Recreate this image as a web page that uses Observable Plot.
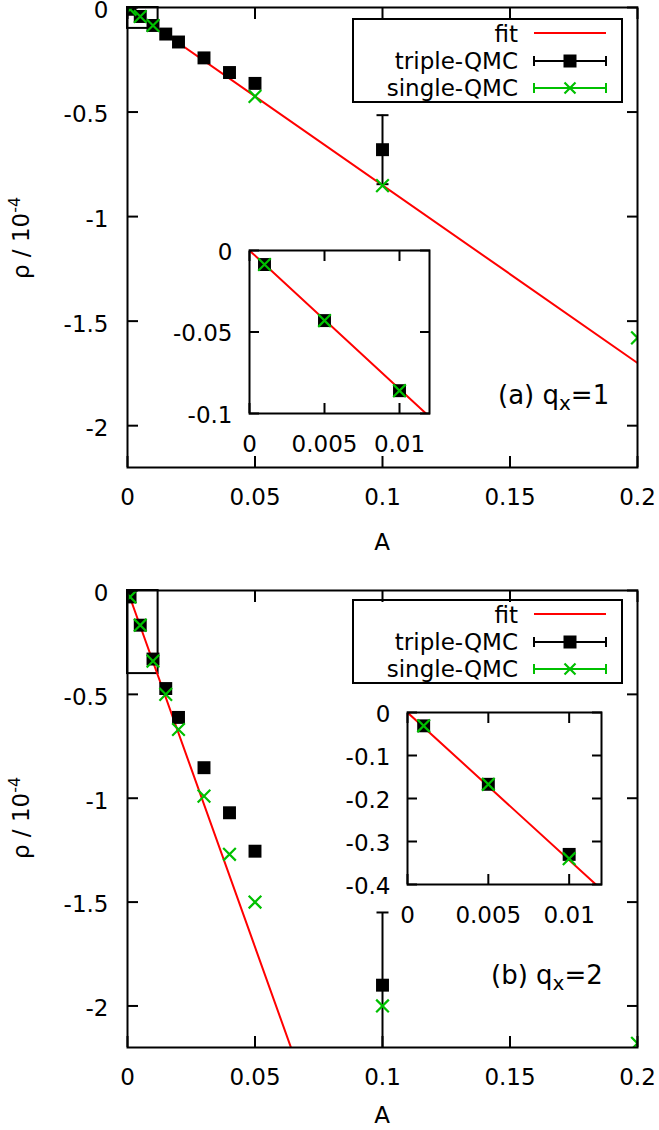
<!DOCTYPE html>
<html><head><meta charset="utf-8">
<script src="https://cdn.jsdelivr.net/npm/d3@7"></script>
<script src="https://cdn.jsdelivr.net/npm/@observablehq/plot@0.6"></script>
<style>
body{margin:0;background:#fff;font-family:"DejaVu Sans",sans-serif;}
#root{position:relative;width:659px;height:1130px;overflow:hidden;background:#fff;}
#root svg{position:absolute;}
</style></head><body><div id="root"></div>
<script>
// ---------- data: panel (a) q_x=1 ----------
const aTripleA   = [0.001, 0.005, 0.01, 0.015, 0.02, 0.03, 0.04, 0.05, 0.1];
const aTripleRho = [-0.0086, -0.043, -0.086, -0.127, -0.165, -0.241, -0.311, -0.363, -0.68];
const aTripleErr = [0, 0, 0, 0, 0, 0, 0, 0, 0.165];
const aSingleA   = [0.001, 0.005, 0.01, 0.05, 0.1, 0.2];
const aSingleRho = [-0.0086, -0.043, -0.086, -0.425, -0.852, -1.58];
const aFitA      = [0, 0.2];
const aFitRho    = [0, -1.7];
// ---------- data: panel (b) q_x=2 ----------
const bTripleA   = [0.001, 0.005, 0.01, 0.015, 0.02, 0.03, 0.04, 0.05, 0.1];
const bTripleRho = [-0.031, -0.167, -0.330, -0.472, -0.611, -0.853, -1.07, -1.255, -1.90];
const bTripleErr = [0, 0, 0, 0, 0, 0, 0, 0, 0.35];
const bSingleA   = [0.001, 0.005, 0.01, 0.015, 0.02, 0.03, 0.04, 0.05, 0.1, 0.2];
const bSingleRho = [-0.031, -0.167, -0.340, -0.50, -0.669, -0.99, -1.27, -1.50, -2.0, -2.18];
const bFitA      = [0, 0.0641];
const bFitRho    = [0, -2.2];
// ---------- ticks ----------
const mainXTicks = [0, 0.05, 0.1, 0.15, 0.2];
const mainXLabels = ["0", "0.05", "0.1", "0.15", "0.2"];
const mainYTicks = [0, -0.5, -1, -1.5, -2];
const mainYLabels = ["0", "-0.5", "-1", "-1.5", "-2"];
const insetXTicks = [0, 0.005, 0.01];
const insetXLabels = ["0", "0.005", "0.01"];
const aInsetYTicks = [0, -0.05, -0.1];
const aInsetYLabels = ["0", "-0.05", "-0.1"];
const bInsetYTicks = [0, -0.1, -0.2, -0.3, -0.4];
const bInsetYLabels = ["0", "-0.1", "-0.2", "-0.3", "-0.4"];
const insetXDomain = [0, 0.012];
const aInsetYDomain = [-0.1, 0];
const bInsetYDomain = [-0.4, 0];
const legendLabels = ["fit", "triple-QMC", "single-QMC"];

const RED = "#ff0000", GREEN = "#00c000", FONT = "DejaVu Sans";
const capSymbol = {draw(ctx, size){ const w = Math.sqrt(size/Math.PI); ctx.moveTo(-w,0); ctx.lineTo(w,0);} };
const fmt = (ticks, labels) => { const m = new Map(ticks.map((t,i)=>[t, labels[i]])); return d => m.get(d) ?? ""; };

function series(A, R, E) { return A.map((a,i)=>({A:a, rho:R[i], err:E ? E[i] : 0})); }

function dataMarks(tri, sgl, fit) {
  const errs = tri.filter(d=>d.err>0);
  const caps = errs.flatMap(d=>[{A:d.A, rho:d.rho+d.err},{A:d.A, rho:d.rho-d.err}]);
  return [
    Plot.line(fit, {x:"A", y:"rho", stroke:RED, strokeWidth:2, clip:true}),
    Plot.ruleX(errs, {x:"A", y1:d=>d.rho-d.err, y2:d=>d.rho+d.err, stroke:"#000", strokeWidth:2, clip:true}),
    Plot.dot(caps, {x:"A", y:"rho", symbol:capSymbol, r:6, stroke:"#000", fill:"none", strokeWidth:2, clip:true}),
    Plot.dot(tri, {x:"A", y:"rho", symbol:"square", r:7.3, fill:"#000", stroke:"none", clip:true}),
    Plot.dot(sgl, {x:"A", y:"rho", symbol:"times", r:5.8, stroke:GREEN, strokeWidth:2.2, clip:true})
  ];
}

function axes(xt, xl, yt, yl, tickLen, xPad, yPad, yDy) {
  return [
    Plot.axisX(xt, {anchor:"bottom", tickSize:0, tickPadding:xPad, tickFormat:fmt(xt,xl), label:null, fill:"#000"}),
    Plot.axisX(xt, {anchor:"bottom", tickSize:-tickLen, tickFormat:()=>"", label:null, stroke:"#000", strokeWidth:2}),
    Plot.axisX(xt, {anchor:"top", tickSize:-tickLen, tickFormat:()=>"", label:null, stroke:"#000", strokeWidth:2}),
    Plot.axisY(yt, {anchor:"left", tickSize:0, tickPadding:yPad, tickFormat:fmt(yt,yl), label:null, fill:"#000", dy:yDy}),
    Plot.axisY(yt, {anchor:"left", tickSize:-tickLen, tickFormat:()=>"", label:null, stroke:"#000", strokeWidth:2}),
    Plot.axisY(yt, {anchor:"right", tickSize:-tickLen, tickFormat:()=>"", label:null, stroke:"#000", strokeWidth:2}),
    Plot.frame({stroke:"#000", strokeWidth:2})
  ];
}

const style = {fontFamily: FONT, fontSize:"23px", color:"#000", background:"transparent", overflow:"visible"};
const root = document.getElementById("root");

function mainPanel(top, mt, mb, tri, sgl, fit, boxY) {
  const svg = Plot.plot({
    width:659, height:565, marginLeft:127, marginRight:22, marginTop:mt, marginBottom:mb,
    style,
    x:{domain:[0,0.2]}, y:{domain:[-2.2,0]},
    marks:[
      Plot.rect([{x1:insetXDomain[0], x2:insetXDomain[1], y1:boxY[0], y2:boxY[1]}], {x1:"x1", x2:"x2", y1:"y1", y2:"y2", fill:"none", stroke:"#000", strokeWidth:2}),
      ...dataMarks(tri, sgl, fit),
      ...axes(mainXTicks, mainXLabels, mainYTicks, mainYLabels, 11, 21, 19, 3)
    ]
  });
  svg.style.left = "0px"; svg.style.top = top + "px";
  root.appendChild(svg);
}

function insetPanel(left, top, iw, ih, yDomain, yt, yl, tri, sgl, fit) {
  const ml = 80, mr = 12, mt = 12, mb = 50;
  const svg = Plot.plot({
    width: iw+ml+mr, height: ih+mt+mb, marginLeft:ml, marginRight:mr, marginTop:mt, marginBottom:mb,
    style,
    x:{domain:insetXDomain}, y:{domain:yDomain},
    marks:[
      ...dataMarks(tri, sgl, fit),
      ...axes(insetXTicks, insetXLabels, yt, yl, 10, 22, 17, 2)
    ]
  });
  svg.style.left = (left-ml) + "px"; svg.style.top = (top-mt) + "px";
  root.appendChild(svg);
}

const aTri = series(aTripleA, aTripleRho, aTripleErr), aSgl = series(aSingleA, aSingleRho), aFit = series(aFitA, aFitRho);
const bTri = series(bTripleA, bTripleRho, bTripleErr), bSgl = series(bSingleA, bSingleRho), bFit = series(bFitA, bFitRho);

mainPanel(0, 7, 98, aTri, aSgl, aFit, aInsetYDomain);
mainPanel(565, 25, 83, bTri, bSgl, bFit, bInsetYDomain);
insetPanel(249, 250, 180, 163, aInsetYDomain, aInsetYTicks, aInsetYLabels, aTri, aSgl, aFit);
insetPanel(407, 712, 194, 172, bInsetYDomain, bInsetYTicks, bInsetYLabels, bTri, bSgl, bFit);

// ---------- overlay: labels and legends ----------
const NS = "http://www.w3.org/2000/svg";
const ov = document.createElementNS(NS, "svg");
ov.setAttribute("width", 659); ov.setAttribute("height", 1130);
ov.style.left = "0px"; ov.style.top = "0px"; ov.style.fontFamily = FONT; ov.style.fontSize = "23px";
root.appendChild(ov);
function el(tag, attrs, parent=ov) { const e = document.createElementNS(NS, tag); for (const k in attrs) e.setAttribute(k, attrs[k]); parent.appendChild(e); return e; }
function txt(parent, s, attrs={}) { const t = el("tspan", attrs, parent); t.textContent = s; return t; }

function legend(dy) {
  el("rect", {x:353, y:19+dy, width:269, height:83, fill:"none", stroke:"#000", "stroke-width":2});
  const base = [42, 69, 96], mid = [33, 61, 88];
  legendLabels.forEach((s,i)=>{ const t = el("text", {x:518, y:base[i]+dy, "text-anchor":"end", fill:"#000"}); t.textContent = s; });
  el("line", {x1:534, x2:606, y1:mid[0]+dy, y2:mid[0]+dy, stroke:RED, "stroke-width":2});
  [[1,"#000"],[2,GREEN]].forEach(([i,c])=>{
    const y = mid[i]+dy;
    el("line", {x1:534, x2:606, y1:y, y2:y, stroke:c, "stroke-width":2});
    el("line", {x1:534, x2:534, y1:y-5, y2:y+5, stroke:c, "stroke-width":2});
    el("line", {x1:606, x2:606, y1:y-5, y2:y+5, stroke:c, "stroke-width":2});
  });
  el("rect", {x:570-6.5, y:mid[1]+dy-6.5, width:13, height:13, fill:"#000"});
  el("path", {d:`M${570-5.5},${mid[2]+dy-5.5}L${570+5.5},${mid[2]+dy+5.5}M${570-5.5},${mid[2]+dy+5.5}L${570+5.5},${mid[2]+dy-5.5}`, stroke:GREEN, "stroke-width":2.2});
}
legend(0); legend(581);

function panelLabel(x, y, letter, q) {
  const t = el("text", {x, y, fill:"#000", "font-size":"26px"});
  txt(t, `(${letter}) q`);
  txt(t, "x", {"font-size":"20px", dy:6});
  txt(t, `=${q}`, {dy:-6});
}
panelLabel(498, 404, "a", 1);
panelLabel(491, 984, "b", 2);

function xLabel(y) { const t = el("text", {x:382, y, "text-anchor":"middle", fill:"#000"}); t.textContent = "A"; }
xLabel(550); xLabel(1123);

function yLabel(cy) {
  const t = el("text", {x:0, y:0, "text-anchor":"middle", fill:"#000", transform:`translate(29,${cy}) rotate(-90)`});
  txt(t, "ρ / 10");
  txt(t, "-4", {"font-size":"16px", dy:-9});
}
yLabel(238); yLabel(818);
</script></body></html>
